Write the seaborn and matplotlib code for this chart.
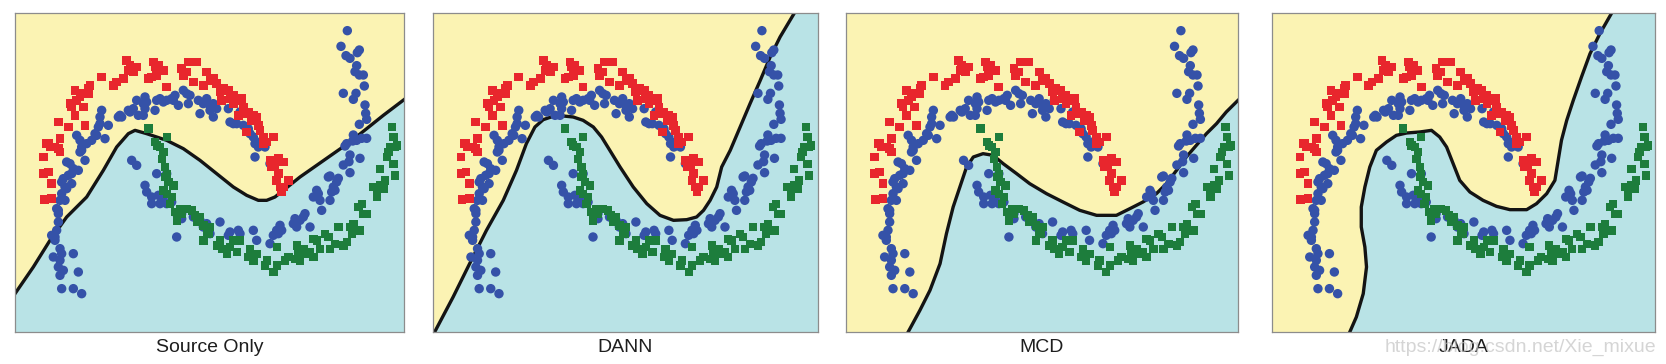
import numpy as np
import pandas as pd
import seaborn as sns
import matplotlib.pyplot as plt

# Панели (одни и те же точки, разные границы решений)
titles = ['Source Only', 'DANN', 'MCD', 'JADA']

# source, класс 0 (красные квадраты)
red_pts = [(133,597),(155,595),(130,520),(145,515),(155,550),(130,470),(145,430),(165,440),(180,415),(175,445),
           (175,365),(205,380),(215,320),(225,345),(210,310),(225,270),(240,290),(250,320),(255,375),(270,255),
           (265,280),(305,230),(340,255),(350,245),(370,235),(380,180),(385,210),(400,215),(410,200),(445,235),
           (460,185),(455,230),(475,195),(490,210),(500,260),(545,205),(550,225),(565,185),(590,185),(580,245),
           (610,255),(620,215),(640,235),(650,250),(665,300),(670,265),(685,270),(700,285),(710,300),(725,295),
           (730,320),(715,345),(745,335),(755,360),(770,350),(740,395),(780,390),(790,410),(800,425),(820,410),
           (810,480),(835,475),(850,485),(825,500),(830,540),(850,560),(845,575),(865,540),
           (140,430),(150,440),(180,455),(230,300),(245,280),(265,265),(390,195),(465,200),(470,225),(560,215),
           (630,240),(660,275),(690,295),(700,310),(735,340),(760,345),(775,375),(790,430),(815,500),(835,520),
           (840,560)]

# source, класс 1 (зелёные квадраты)
green_pts = [(445,385),(465,425),(480,440),(500,410),(490,455),(485,475),(495,500),(500,520),(505,545),(520,555),
             (490,570),(500,580),(510,610),(525,635),(530,660),(545,640),(560,625),(575,630),(585,645),(595,660),
             (600,650),(610,675),(620,695),(630,680),(610,720),(660,720),(665,745),(690,740),(700,720),(710,755),
             (745,770),(750,745),(770,760),(800,780),(820,815),(830,795),(830,740),(855,780),(885,775),(895,760),
             (890,735),(910,745),(930,755),(940,770),(940,715),(960,745),(975,700),(990,745),(1005,730),(1015,680),
             (1030,735),(1040,725),(1055,700),(1060,670),(1065,690),(1075,620),(1085,610),(1100,640),(1120,560),
             (1130,590),(1140,555),(1155,540),(1140,505),(1160,470),(1180,490),(1185,525),(1170,440),(1180,410),
             (1175,380),(1190,435),
             (470,435),(495,530),(515,590),(540,625),(590,665),(625,700),(650,735),(680,760),(720,720),(760,780),
             (795,795),(865,770),(900,780),(920,760),(950,720),(985,710),(1050,680),(1080,690),(1090,640),
             (1130,570),(1150,565),(1165,455),(1185,440)]

# target (синие точки)
blue_pts = [(185,865),(220,865),(245,880),(235,815),(220,760),(180,825),(175,800),(160,770),(180,745),(165,710),
            (155,705),(170,690),(175,665),(175,640),(170,625),(180,600),(195,600),(185,580),(200,565),(215,550),
            (185,545),(190,535),(205,525),(220,505),(235,510),(200,485),(210,490),(245,450),(240,455),(255,480),
            (260,430),(230,405),(240,420),(285,400),(295,380),(290,405),(300,350),(305,330),(315,415),(325,375),
            (355,350),(365,350),(385,330),(400,325),(410,300),(415,345),(430,345),(435,290),(435,325),(440,305),
            (465,330),(480,295),(490,305),(500,300),(515,295),(525,285),(535,315),(550,270),(565,310),(570,285),
            (600,340),(610,310),(620,295),(630,330),(640,310),(640,350),(665,300),(685,325),(690,365),(710,370),
            (720,335),(730,375),(745,385),(760,410),(765,430),(780,425),(795,440),(765,470),(810,490),
            (395,480),(410,495),(470,520),(435,555),(440,575),(455,590),(475,585),(490,590),(455,610),(480,610),
            (515,605),(530,640),(545,655),(530,710),(600,660),(620,670),(660,665),(685,705),(715,690),(720,700),
            (760,690),(770,720),(715,720),(810,730),(820,705),(830,690),(840,675),(845,690),(885,655),(890,680),
            (910,650),(915,640),(930,680),(940,590),(950,570),(960,600),(965,630),(985,530),(990,600),(995,575),
            (1010,545),(1005,570),
            (1042,91),(1023,138),(1038,166),(1050,174),(1078,149),(1072,157),(1070,196),(1065,214),(1078,224),
            (1090,224),(1093,257),(1030,279),(1068,279),(1060,297),(1095,314),(1097,339),(1100,357),(1078,372),
            (1060,404),(1058,422),(1085,414),(1100,414),(1035,437),(1050,464),(1047,484),(1080,474),(1030,494),
            (1050,517),(990,527),(1015,534),
            (175,630),(165,720),(185,760),(180,780),(190,810),(195,560),(215,520),(245,440),(275,420),(300,370),
            (360,345),(390,335),(430,310),(470,300),(520,300),(560,280),(595,300),(630,315),(650,325),(700,370),
            (750,400),(775,440),(500,520),(500,610),(545,640),(580,650),(610,680),(630,700),(690,695),(835,700),
            (880,670),(900,660),(955,580),(1000,560),(1040,430),(1070,420)]

# границы решений для каждой панели
bound_source = [(25,909),(45,880),(100,800),(150,720),(200,650),(260,590),(310,510),(350,440),(385,400),(405,390),
                (440,400),(500,420),(550,445),(600,480),(650,520),(700,560),(740,585),(775,600),(800,600),(825,590),
                (850,570),(900,530),(950,495),(1000,460),(1050,425),(1100,385),(1150,345),(1212,298),(1240,276)]
bound_dann = [(40,1012),(50,995),(106,890),(156,790),(207,690),(258,600),(298,510),(328,430),(354,380),(379,358),
              (409,348),(440,347),(470,350),(500,360),(531,380),(556,410),(581,450),(612,500),(652,560),(693,610),
              (733,645),(774,660),(814,658),(844,650),(865,630),(885,600),(905,560),(920,500),(946,450),(976,380),
              (1006,310),(1037,240),(1067,170),(1097,110),(1138,42),(1150,22)]
bound_mcd = [(222,1010),(230,995),(265,930),(295,870),(325,790),(344,700),(364,620),(384,560),(404,500),(424,470),
             (453,460),(483,465),(513,490),(553,520),(592,550),(642,580),(691,605),(741,630),(791,645),(850,645),
             (890,625),(929,605),(969,580),(999,550),(1029,510),(1058,470),(1088,435),(1118,400),(1148,370),
             (1177,335),(1212,300),(1240,274)]
bound_jada = [(276,1010),(282,995),(302,950),(323,880),(333,800),(328,740),(317,680),(317,620),(328,560),(343,500),
              (363,450),(394,425),(424,405),(455,398),(495,395),(531,390),(556,410),(577,440),(597,490),(617,540),
              (648,575),(688,600),(729,618),(770,628),(821,628),(851,610),(882,580),(907,540),(917,480),(927,420),
              (943,360),(963,300),(988,230),(1014,160),(1044,100),(1080,38),(1090,20)]
bounds = [bound_source, bound_dann, bound_mcd, bound_jada]

frames = []
for pts, kind in [(blue_pts, 'target'), (red_pts, 'src0'), (green_pts, 'src1')]:
    a = np.array(pts)
    frames.append(pd.DataFrame({'x': a[:, 0], 'y': a[:, 1], 'kind': kind}))
df = pd.concat(frames, ignore_index=True)

sns.set_style('white')
plt.rcParams['font.family'] = ['Liberation Sans', 'DejaVu Sans']

fig = plt.figure(figsize=(16.66, 3.64), dpi=100)
boxes = [(15, 389), (433, 385), (846, 392), (1272, 383)]

for i in range(4):
    left, w = boxes[i]
    ax = fig.add_axes([left / 1666, 32 / 364, w / 1666, 319 / 364])
    ax.set_facecolor('#fbf3b3')

    b = np.array(bounds[i])
    poly = np.vstack([b, [[5000, b[-1, 1]], [5000, 5000], [b[0, 0], 5000]]])
    ax.fill(poly[:, 0], poly[:, 1], color='#b9e3e6', lw=0, zorder=1)
    ax.plot(b[:, 0], b[:, 1], color='#141414', lw=2.4, zorder=2, solid_capstyle='round')

    sns.scatterplot(data=df, x='x', y='y', hue='kind', style='kind', size='kind',
                    palette={'target': '#3552a8', 'src0': '#e8262d', 'src1': '#1d7d3c'},
                    markers={'target': 'o', 'src0': 's', 'src1': 's'},
                    sizes={'target': 46, 'src0': 40, 'src1': 36},
                    linewidth=0, legend=False, ax=ax, zorder=3)

    ax.set_xlim(45, 1212)
    ax.set_ylim(995, 38)
    ax.set_xticks([])
    ax.set_yticks([])
    ax.set_xlabel('')
    ax.set_ylabel('')
    for sp in ax.spines.values():
        sp.set_color('#8c8c8c')
        sp.set_linewidth(0.9)

    fig.text((left + w / 2) / 1666, 1 - 348 / 364, titles[i], ha='center', va='center',
             fontsize=14, color='#1e1e1e')

# водяной знак (в оригинале накладывается на подпись JADA)
fig.text(1656 / 1666, 1 - 347 / 364, 'https://blog.csdn.net/Xie_mixue', ha='right', va='center',
         fontsize=14, color='#c4c4c4', alpha=0.7)

fig.savefig('out.png', dpi=100)
